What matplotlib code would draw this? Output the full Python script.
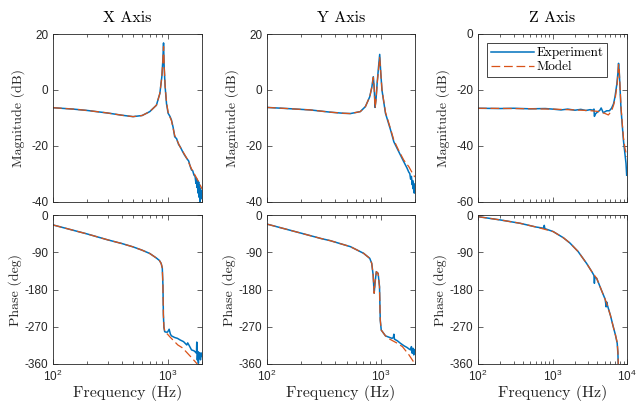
import matplotlib
matplotlib.use("Agg")
import matplotlib.pyplot as plt
from matplotlib.ticker import LogLocator, FixedLocator, NullFormatter, LogFormatterSciNotation

# ---------------- data ----------------
titles = ["X Axis", "Y Axis", "Z Axis"]
xlims = [(100, 2000), (100, 2000), (100, 10000)]
mag_lims = [(-40, 20), (-40, 20), (-60, 0)]
mag_ticks = [[-40, -20, 0, 20], [-40, -20, 0, 20], [-60, -40, -20, 0]]
phase_ticks = [-360, -270, -180, -90, 0]

# X axis - magnitude
x_mag_f_exp = [100, 150, 200, 300, 400, 500, 600, 700, 800, 857, 892, 910, 923, 935, 953, 980, 1012, 1050,
               1082, 1120, 1155, 1200, 1250, 1290, 1350, 1400, 1473, 1530, 1580, 1620, 1660, 1700, 1740,
               1770, 1790, 1810, 1830, 1850, 1870, 1890, 1905, 1920, 1935, 1950, 1965, 1980, 2000]
x_mag_exp = [-6.4, -6.9, -7.4, -8.3, -9.1, -9.6, -9.2, -7.8, -5.5, -1.3, 4.7, 10.5, 16.8, 8.0, 1.1, -5.0, -8.4,
             -9.5, -10.8, -13.5, -16.8, -17.5, -19.6, -20.4, -22.0, -23.2, -24.6, -25.5, -27.5, -28.7,
             -29.0, -30.5, -31.0, -33.5, -31.7, -35.0, -32.5, -37.0, -33.0, -38.5, -34.0, -40.0, -35.5,
             -37.5, -36.0, -39.0, -37.0]
x_mag_f_mod = [100, 150, 200, 300, 400, 500, 600, 700, 800, 857, 892, 910, 923, 935, 953, 980, 1012, 1050,
               1082, 1155, 1290, 1473, 1620, 1790, 1900, 2000]
x_mag_mod = [-6.4, -6.9, -7.4, -8.3, -9.1, -9.6, -9.2, -7.8, -5.5, -1.3, 4.7, 10.0, 15.5, 9.0, 1.5, -4.5, -8.0,
             -9.8, -11.0, -16.3, -20.5, -24.5, -28.3, -31.5, -33.5, -35.5]

# X axis - phase
x_ph_f_exp = [100, 200, 300, 400, 500, 600, 700, 800, 850, 880, 900, 912, 920, 930, 945, 970, 1000, 1033,
              1060, 1082, 1155, 1220, 1290, 1380, 1473, 1500, 1550, 1620, 1700, 1750, 1790, 1800, 1820,
              1840, 1860, 1880, 1900, 1920, 1940, 1960, 1980, 2000]
x_ph_exp = [-24, -46, -60, -69, -77, -85, -93, -104, -110, -117, -128, -170, -240, -272, -282, -283, -283,
            -276, -288, -292, -296, -298, -302, -306, -314, -309, -316, -326, -328, -331, -334, -307, -350,
            -330, -358, -332, -345, -335, -350, -333, -342, -336]
x_ph_f_mod = [100, 200, 300, 400, 500, 600, 700, 800, 850, 880, 900, 912, 920, 930, 945, 970, 1000, 1045,
              1230, 1350, 1590, 1790, 2000]
x_ph_mod = [-24, -46, -60, -69, -77, -85, -93, -104, -110, -117, -128, -170, -240, -270, -280, -285, -288,
            -294, -314, -321, -342, -358, -372]

# Y axis - magnitude
y_mag_f_exp = [100, 150, 240, 360, 471, 541, 661, 733, 800, 836, 860, 875, 891, 910, 929, 955, 979, 1000,
               1025, 1100, 1220, 1303, 1441, 1595, 1700, 1764, 1800, 1830, 1860, 1890, 1910, 1930, 1950,
               1970, 1985, 2000]
y_mag_exp = [-6.3, -6.7, -7.2, -8.0, -8.4, -8.5, -7.8, -6.0, -2.5, 1.1, 4.7, 1.0, -6.3, -3.0, 2.3, 8.0, 12.7,
             6.0, -0.1, -8.4, -14.4, -18.6, -22.2, -25.8, -28.0, -29.5, -30.0, -32.0, -31.0, -34.0, -32.5,
             -35.5, -33.5, -37.0, -34.5, -36.5]
y_mag_f_mod = [100, 150, 240, 360, 471, 541, 661, 733, 800, 836, 860, 875, 891, 910, 929, 955, 979, 1000,
               1025, 1100, 1220, 1303, 1441, 1595, 1764, 1950, 2000]
y_mag_mod = [-6.3, -6.7, -7.2, -8.0, -8.4, -8.5, -7.8, -6.0, -2.5, 1.1, 4.5, 0.5, -6.5, -3.5, 2.0, 7.0, 11.5,
             6.5, 0.0, -8.0, -14.0, -18.0, -21.8, -25.2, -27.5, -30.7, -31.2]

# Y axis - phase
y_ph_f_exp = [100, 200, 300, 360, 541, 707, 800, 833, 857, 875, 893, 914, 948, 975, 990, 1010, 1100, 1200,
              1257, 1290, 1303, 1320, 1400, 1490, 1600, 1700, 1780, 1830, 1860, 1890, 1920, 1950, 1980, 2000]
y_ph_exp = [-22, -44, -57, -62, -76.5, -92.6, -104.7, -116.8, -145, -189, -161, -137, -141, -173, -254,
            -278, -292, -296, -298, -296, -288, -300, -304, -310, -316, -320, -324, -326, -318, -334,
            -322, -338, -325, -332]
y_ph_f_mod = [100, 200, 300, 360, 541, 707, 800, 833, 857, 875, 893, 914, 948, 975, 990, 1010, 1100, 1200,
              1400, 1550, 1760, 2000]
y_ph_mod = [-22, -44, -57, -62, -76.5, -92.6, -104.7, -116.8, -145, -189, -161, -137, -141, -173, -254,
            -278, -292, -300, -310, -318, -337, -360]

# Z axis - magnitude
z_mag_f_exp = [100, 200, 300, 500, 800, 1000, 1300, 1600, 2000, 2400, 2800, 3200, 3500, 3600, 3650, 3800,
               4000, 4330, 4500, 4800, 5340, 5800, 6200, 6600, 6900, 7300, 7550, 7700, 7850, 8050, 8300,
               8600, 8950, 9300, 9700, 9900]
z_mag_exp = [-26.6, -26.7, -26.6, -26.8, -26.7, -26.9, -27.2, -26.9, -27.3, -27.0, -27.4, -27.1, -27.3,
             -26.9, -29.5, -28.5, -28.0, -27.3, -26.5, -28.2, -27.5, -27.5, -26.6, -25.0, -22.5, -18.0,
             -14.0, -10.5, -13.0, -19.0, -26.6, -32.0, -38.0, -42.0, -46.4, -50.6]
z_mag_f_mod = [100, 300, 1000, 2000, 3000, 4000, 5000, 5620, 6200, 6600, 6900, 7300, 7550, 7700, 7850,
               8050, 8300, 8600, 8950, 9400, 10000]
z_mag_mod = [-26.6, -26.7, -26.9, -27.2, -27.4, -27.7, -28.4, -29.0, -27.6, -25.5, -23.5, -19.0, -14.5,
             -11.0, -12.5, -18.5, -26.0, -31.5, -37.0, -41.0, -44.0]

# Z axis - phase
z_ph_f_exp = [100, 200, 367, 600, 760, 775, 790, 1020, 1400, 1720, 2200, 2870, 3400, 3600, 3650, 3700,
              3920, 4500, 5100, 5250, 5330, 5500, 6000, 6540, 7000, 7390, 7550, 7630]
z_ph_exp = [-4, -12, -20, -29, -32, -25, -33, -40, -55, -68, -88, -117, -138, -146, -165, -150, -153,
            -180, -204, -222, -210, -220, -243, -270, -290, -310, -335, -362]
z_ph_f_mod = [100, 200, 367, 600, 1020, 1400, 1720, 2200, 2870, 3400, 3920, 4500, 5330, 6000, 6540, 7000,
              7390, 7550, 7630]
z_ph_mod = [-4, -12, -20, -29, -40, -55, -68, -88, -117, -138, -153, -180, -213, -243, -270, -290, -308,
            -330, -362]

mag_data = [(x_mag_f_exp, x_mag_exp, x_mag_f_mod, x_mag_mod),
            (y_mag_f_exp, y_mag_exp, y_mag_f_mod, y_mag_mod),
            (z_mag_f_exp, z_mag_exp, z_mag_f_mod, z_mag_mod)]
ph_data = [(x_ph_f_exp, x_ph_exp, x_ph_f_mod, x_ph_mod),
           (y_ph_f_exp, y_ph_exp, y_ph_f_mod, y_ph_mod),
           (z_ph_f_exp, z_ph_exp, z_ph_f_mod, z_ph_mod)]

# ---------------- style ----------------
plt.rcParams['font.family'] = ['Liberation Sans', 'DejaVu Sans']
plt.rcParams['axes.unicode_minus'] = False
plt.rcParams['mathtext.fontset'] = 'custom'
plt.rcParams['mathtext.rm'] = 'Liberation Sans'
plt.rcParams['mathtext.it'] = 'Liberation Sans:italic'

SERIF = ['cmr10', 'DejaVu Serif']
BLUE = '#0072BD'
ORANGE = '#D95319'
AXC = '#262626'

fig = plt.figure(figsize=(6.36, 4.08), dpi=100)
W, H = 636.0, 408.0
lefts = [53, 267, 478]
widths = [149, 148, 149]
mag_box = (34, 201.5)
ph_box = (215, 364)


def style(ax, xl):
    ax.set_xscale('log')
    ax.set_xlim(*xl)
    ax.tick_params(which='both', direction='in', top=True, right=True, colors=AXC,
                   labelsize=8.5, width=0.5)
    ax.tick_params(which='major', length=3.5)
    ax.tick_params(which='minor', length=2)
    ax.xaxis.set_major_locator(LogLocator(base=10, numticks=10))
    ax.xaxis.set_minor_locator(LogLocator(base=10, subs=range(2, 10), numticks=20))
    ax.xaxis.set_minor_formatter(NullFormatter())
    for s in ax.spines.values():
        s.set_linewidth(0.6)
        s.set_color(AXC)


for i in range(3):
    l = lefts[i] / W
    w = widths[i] / W
    # magnitude
    axm = fig.add_axes([l, 1 - mag_box[1] / H, w, (mag_box[1] - mag_box[0]) / H])
    fe, me, fm, mm = mag_data[i]
    axm.plot(fe, me, color=BLUE, lw=1.1, label='Experiment')
    lm, = axm.plot(fm, mm, color=ORANGE, lw=0.9, label='Model')
    lm.set_dashes((7, 3))
    style(axm, xlims[i])
    axm.set_ylim(*mag_lims[i])
    axm.yaxis.set_major_locator(FixedLocator(mag_ticks[i]))
    axm.set_xticklabels([])
    axm.set_title(titles[i], family=SERIF, fontsize=11.5, color='black', pad=9)
    axm.set_ylabel('Magnitude (dB)', family=SERIF, fontsize=10, color=AXC, labelpad=4)
    if i == 2:
        leg = axm.legend(loc='upper left', bbox_to_anchor=(0.06, 0.946), borderaxespad=0,
                         prop={'family': SERIF, 'size': 9.5}, handlelength=3.3,
                         handletextpad=0.15, labelspacing=0.15, fancybox=False,
                         edgecolor=AXC, framealpha=1, borderpad=0.3)
        leg.get_frame().set_linewidth(0.6)
    # phase
    axp = fig.add_axes([l, 1 - ph_box[1] / H, w, (ph_box[1] - ph_box[0]) / H])
    fe, pe, fm, pm = ph_data[i]
    axp.plot(fe, pe, color=BLUE, lw=1.1)
    lp, = axp.plot(fm, pm, color=ORANGE, lw=0.9)
    lp.set_dashes((7, 3))
    style(axp, xlims[i])
    axp.set_ylim(-360, 0)
    axp.yaxis.set_major_locator(FixedLocator(phase_ticks))
    axp.xaxis.set_major_formatter(LogFormatterSciNotation())
    axp.set_ylabel('Phase (deg)', family=SERIF, fontsize=10, color=AXC, labelpad=2)
    axp.set_xlabel('Frequency (Hz)', family=SERIF, fontsize=11.5, color=AXC, labelpad=1)

fig.savefig('out.png', dpi=100)
